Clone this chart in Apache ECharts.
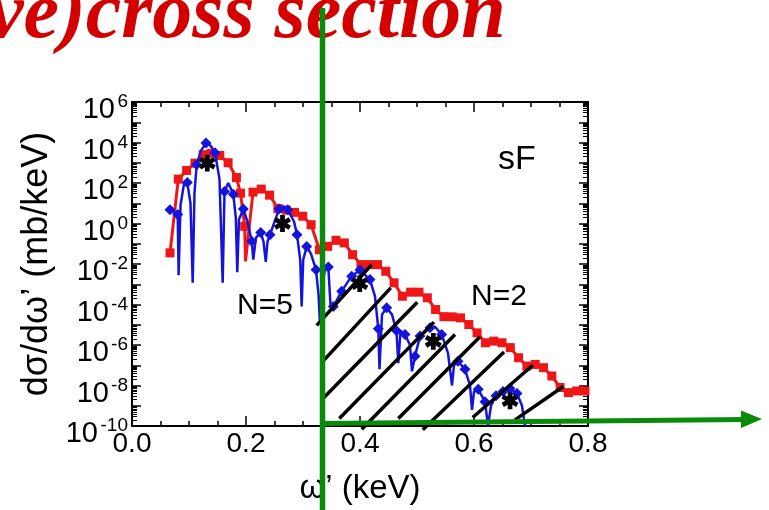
<!DOCTYPE html>
<html><head><meta charset="utf-8">
<script src="https://cdn.jsdelivr.net/npm/echarts@6/dist/echarts.min.js"></script>
<style>html,body{margin:0;padding:0;background:#fff}#c{width:769px;height:510px}</style>
</head><body><div id="c"></div>
<script>
// ---- data (x in keV, y as log10 of dσ/dω' in mb/keV) ----
const redPts = [[0.0667,-1.45],[0.0812,2.19],[0.0958,2.62],[0.1104,2.98],[0.1249,3.40],[0.1395,3.47],[0.1540,3.36],[0.1686,3.0],[0.1832,2.27],[0.1904,1.5],[0.1977,-0.14],[0.1991,-1.87],[0.2123,1.55],[0.2268,1.70],[0.2414,1.40],[0.2560,0.74],[0.2705,0.66],[0.2851,0.55],[0.2996,0.36],[0.3142,-0.06],[0.3288,-1.3],[0.3433,-1.13],[0.3579,-0.83],[0.3725,-0.96],[0.3870,-1.54],[0.4016,-2.03],[0.4161,-2.03],[0.4307,-2.03],[0.4453,-2.36],[0.4598,-2.93],[0.4744,-3.59],[0.4889,-3.39],[0.5035,-3.39],[0.5181,-3.67],[0.5326,-4.25],[0.5472,-4.6],[0.5618,-4.61],[0.5763,-4.66],[0.5909,-4.99],[0.6054,-5.40],[0.6200,-5.89],[0.6346,-5.81],[0.6491,-5.89],[0.6637,-6.13],[0.6782,-6.63],[0.6928,-7.04],[0.7074,-6.96],[0.7219,-7.12],[0.7365,-7.53],[0.7511,-8.10],[0.7656,-8.35],[0.7802,-8.27],[0.7947,-8.27]];
const redNoMarker = [0.1991];
// [x, log10 value, marker(1=diamond)]
const bluePts = [[0.0667,0.68,1],[0.0802,0.45,1],[0.0818,-2.55,0],[0.0851,0.9,0],[0.0912,1.95,0],[0.0970,2.02,1],[0.1026,1.0,0],[0.1065,-2.93,0],[0.1096,1.5,0],[0.1135,2.9,1],[0.1211,3.6,0],[0.1298,3.97,1],[0.1377,3.85,0],[0.1456,3.5,1],[0.1535,2.2,0],[0.1591,-2.93,0],[0.1623,1.58,1],[0.1689,2.0,0],[0.1777,1.45,1],[0.1821,0.3,0],[0.1847,-2.4,0],[0.1877,0.2,0],[0.1953,0.72,1],[0.2035,0.0,0],[0.2100,-0.88,1],[0.2128,-1.78,0],[0.2175,-0.7,0],[0.2258,-0.45,1],[0.2307,-0.9,0],[0.2347,-1.9,0],[0.2377,-0.9,0],[0.2421,-0.55,1],[0.2579,0.71,1],[0.2654,0.85,0],[0.2732,0.68,1],[0.2842,0.1,0],[0.2895,-0.55,1],[0.2951,-1.8,0],[0.2977,-4.1,0],[0.3003,-1.8,0],[0.3065,-1.13,1],[0.3140,-1.5,0],[0.3228,-2.28,1],[0.3272,-3.5,0],[0.3295,-4.8,0],[0.3325,-3.2,0],[0.3386,-2.3,0],[0.3444,-2.15,1],[0.3482,-4.0,0],[0.3532,-4.1,1],[0.3679,-3.34,1],[0.3854,-2.6,1],[0.4000,-2.3,1],[0.4175,-2.77,1],[0.4263,-3.6,0],[0.4321,-5.2,1],[0.4342,-7.2,0],[0.4386,-4.5,0],[0.4468,-4.16,1],[0.4561,-4.5,0],[0.4640,-5.3,1],[0.4672,-6.9,0],[0.4711,-5.3,0],[0.4789,-5.48,1],[0.4877,-6.0,0],[0.4912,-7.3,0],[0.4965,-6.55,1],[0.5053,-5.56,1],[0.5228,-5.15,1],[0.5316,-5.1,0],[0.5433,-5.48,1],[0.5544,-6.4,0],[0.5614,-8.0,0],[0.5649,-7.0,0],[0.5719,-6.8,1],[0.5842,-7.2,1],[0.5930,-8.0,0],[0.5965,-9.2,0],[0.6000,-8.3,0],[0.6075,-8.19,1],[0.6193,-8.8,1],[0.6246,-10,0],[0.6298,-9.0,0],[0.6386,-8.5,1],[0.6509,-8.3,1],[0.6632,-8.15,1],[0.6754,-8.4,1],[0.6842,-9.0,0],[0.6895,-10,0]];
const starPts = [[0.1321,2.98],[0.2640,0.0],[0.3996,-2.97],[0.5286,-5.82],[0.6632,-8.75]];
// hatch annotation segments: [x1, log1, x2, log2]
const hatchSegs = [[0.324,-5.03,0.4205,-2.03],[0.3328,-6.87,0.4539,-3.18],[0.3346,-8.65,0.5005,-3.89],[0.3637,-9.63,0.5298,-4.87],[0.403,-10.16,0.5667,-5.48],[0.4672,-9.63,0.6105,-5.59],[0.51,-10.19,0.6526,-6.35],[0.5977,-9.58,0.703,-7.0],[0.6719,-9.7,0.7567,-8.05]];
const xTickLabels = ['0.0','0.2','0.4','0.6','0.8'];
const yLabelExps = [6,4,2,0,-2,-4,-6,-8,-10];
const texts = { title: 've)cross section', sF: 'sF', n5: 'N=5', n2: 'N=2', xName: 'ω’ (keV)', yName: 'dσ/dω’ (mb/keV)' };

const P = e => Math.pow(10, e);
const FONT = '"Liberation Sans", Arial, Helvetica, sans-serif';
const majorVals = []; const minorVals = [];
for (let e = -10; e <= 6; e++) { majorVals.push(P(e)); if (e < 6) for (let k = 2; k <= 9; k++) minorVals.push(k * P(e)); }
const labelVals = yLabelExps.map(P);
const expOf = v => Math.round(Math.log10(v));

// widths of the superscripts, so the base "10" leaves room for them
const mctx = document.createElement('canvas').getContext('2d');
mctx.font = '19px ' + FONT;
const baseRich = {};
yLabelExps.forEach((e, i) => {
  baseRich['b' + i] = { fontSize: 29, fontFamily: FONT, color: '#000', lineHeight: 20,
    padding: [0, Math.ceil(mctx.measureText(String(e)).width) + 2, 0, 0] };
});

// six-armed asterisk outline as a symbol path
function asteriskPath(L, w) {
  const pts = [];
  for (let k = 0; k < 6; k++) {
    const t = (90 + 60 * k) * Math.PI / 180;
    const cx = L * Math.cos(t), cy = L * Math.sin(t);
    const nx = -Math.sin(t), ny = Math.cos(t);
    pts.push([cx - w * nx, cy - w * ny], [cx + w * nx, cy + w * ny]);
    const ti = t + Math.PI / 6, r = 2 * w;
    pts.push([r * Math.cos(ti), r * Math.sin(ti)]);
  }
  return 'path://M' + pts.map(p => p[0].toFixed(3) + ',' + p[1].toFixed(3)).join('L') + 'Z';
}
const asterisk = asteriskPath(5, 1.4);

const chart = echarts.init(document.getElementById('c'), null, { renderer: 'canvas' });
const yBase = { type: 'log', logBase: 10, min: 1e-10, max: 1e6, splitLine: { show: false } };
const xBase = { type: 'value', min: 0, max: 0.8, interval: 0.2, splitLine: { show: false }, minorSplitLine: { show: false } };

chart.setOption({
  animation: false,
  backgroundColor: '#fff',
  grid: { left: 132, right: 181, top: 102, bottom: 83, containLabel: false },
  xAxis: [
    Object.assign({}, xBase, {
      position: 'bottom',
      axisLine: { lineStyle: { color: '#000', width: 2 } },
      axisTick: { inside: true, length: 10, lineStyle: { color: '#000', width: 1.5 } },
      minorTick: { show: true, splitNumber: 4, length: 5, lineStyle: { color: '#000', width: 1.5 } },
      axisLabel: { margin: 4, fontSize: 28, fontFamily: FONT, color: '#000', showMinLabel: true, showMaxLabel: true,
        formatter: v => xTickLabels[Math.round(v / 0.2)] },
      name: texts.xName, nameLocation: 'middle', nameGap: 46,
      nameTextStyle: { fontSize: 33, fontFamily: FONT, color: '#000' }
    }),
    Object.assign({}, xBase, {
      position: 'top',
      axisLine: { lineStyle: { color: '#000', width: 2 } },
      axisTick: { inside: true, length: 10, lineStyle: { color: '#000', width: 1.5 } },
      minorTick: { show: true, splitNumber: 4, length: 5, lineStyle: { color: '#000', width: 1.5 } },
      axisLabel: { show: false }
    })
  ],
  yAxis: [
    Object.assign({}, yBase, {
      position: 'left',
      axisLine: { lineStyle: { color: '#000', width: 2 } },
      axisTick: { inside: true, length: 9, customValues: majorVals, lineStyle: { color: '#000', width: 1.5 } },
      // base "10" of each power-of-ten label
      axisLabel: { customValues: labelVals, margin: 4, padding: [16, 0, 0, 0], showMinLabel: true, showMaxLabel: true,
        formatter: v => '{b' + yLabelExps.indexOf(expOf(v)) + '|10}', rich: baseRich },
      name: texts.yName, nameLocation: 'middle', nameGap: 72,
      nameTextStyle: { fontSize: 36, fontFamily: FONT, color: '#000' }
    }),
    Object.assign({}, yBase, {
      position: 'left',
      axisLine: { show: false },
      axisTick: { inside: true, length: 5, customValues: minorVals, lineStyle: { color: '#000', width: 1 } },
      // superscript exponent of each power-of-ten label
      axisLabel: { customValues: labelVals, margin: 4, padding: [0, 0, 10, 0], showMinLabel: true, showMaxLabel: true,
        formatter: v => String(expOf(v)), fontSize: 19, lineHeight: 20, fontFamily: FONT, color: '#000' }
    }),
    Object.assign({}, yBase, {
      position: 'right',
      axisLine: { lineStyle: { color: '#000', width: 2 } },
      axisTick: { inside: true, length: 9, customValues: majorVals, lineStyle: { color: '#000', width: 1.5 } },
      axisLabel: { show: false }
    }),
    Object.assign({}, yBase, {
      position: 'right',
      axisLine: { show: false },
      axisTick: { inside: true, length: 5, customValues: minorVals, lineStyle: { color: '#000', width: 1 } },
      axisLabel: { show: false }
    })
  ],
  series: [
    {
      type: 'line', name: 'red', xAxisIndex: 0, yAxisIndex: 0,
      data: redPts.map(p => redNoMarker.includes(p[0]) ? { value: [p[0], P(p[1])], symbol: 'none' } : [p[0], P(p[1])]),
      symbol: 'rect', symbolSize: 9, showAllSymbol: true,
      lineStyle: { color: '#ee1616', width: 3 }, itemStyle: { color: '#ee1616' }, z: 2
    },
    {
      type: 'line', name: 'blue', xAxisIndex: 0, yAxisIndex: 0,
      data: bluePts.map(p => p[2] ? [p[0], P(p[1])] : { value: [p[0], P(p[1])], symbol: 'none' }),
      symbol: 'diamond', symbolSize: 11, showAllSymbol: true,
      lineStyle: { color: '#1414dc', width: 2.5 }, itemStyle: { color: '#1414dc' }, z: 3
    },
    {
      type: 'scatter', name: 'star', xAxisIndex: 0, yAxisIndex: 0,
      data: starPts.map(p => [p[0], P(p[1])]),
      symbol: asterisk, symbolSize: 17, symbolKeepAspect: true,
      itemStyle: { color: '#000', opacity: 1 }, z: 4
    },
    {
      type: 'lines', coordinateSystem: 'cartesian2d', xAxisIndex: 0, yAxisIndex: 0, clip: false,
      data: hatchSegs.map(s => ({ coords: [[s[0], P(s[1])], [s[2], P(s[3])]] })),
      lineStyle: { color: '#000', width: 3.5, opacity: 1 }, z: 5
    }
  ],
  graphic: [
    { type: 'text', z: 50, style: { text: texts.title, x: -12, y: 16, font: 'italic bold 80px "Liberation Serif", "Times New Roman", serif', fill: '#d40000', verticalAlign: 'middle' } },
    { type: 'text', z: 50, style: { text: texts.sF, x: 517, y: 160, font: '34px ' + FONT, fill: '#000', align: 'center', verticalAlign: 'middle' } },
    { type: 'text', z: 50, style: { text: texts.n5, x: 265, y: 306, font: '30px ' + FONT, fill: '#000', align: 'center', verticalAlign: 'middle' } },
    { type: 'text', z: 50, style: { text: texts.n2, x: 499, y: 297, font: '30px ' + FONT, fill: '#000', align: 'center', verticalAlign: 'middle' } },
    { type: 'line', z: 60, shape: { x1: 322.5, y1: 8, x2: 322.5, y2: 510 }, style: { stroke: '#0a8a0a', lineWidth: 5.5 } },
    { type: 'line', z: 60, shape: { x1: 322, y1: 423.5, x2: 746, y2: 419.5 }, style: { stroke: '#0a8a0a', lineWidth: 5 } },
    { type: 'polygon', z: 60, shape: { points: [[741, 410.5], [762, 419], [741, 428]] }, style: { fill: '#0a8a0a' } }
  ]
});
</script></body></html>
